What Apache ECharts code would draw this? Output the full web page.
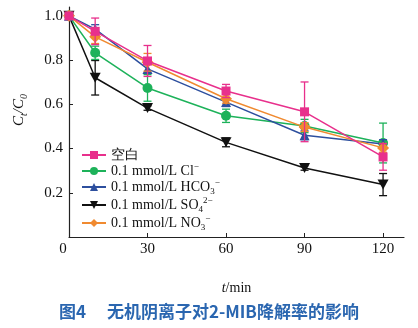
<!DOCTYPE html>
<html><head><meta charset="utf-8">
<script src="https://cdn.jsdelivr.net/npm/echarts@6/dist/echarts.min.js"></script>
<style>html,body{margin:0;padding:0;background:#fff}#c{width:418px;height:328px}</style>
</head><body><div id="c"></div>
<script>
const times = [0, 10, 30, 60, 90, 120];
const blank = [1.0, 0.93, 0.796, 0.66, 0.566, 0.362];
const blankErr = [0, 0.06, 0.07, 0.03, 0.135, 0.06];
const cl = [1.0, 0.833, 0.674, 0.548, 0.502, 0.425];
const clErr = [0, 0.03, 0.06, 0.03, 0.03, 0.09];
const hco3 = [1.0, 0.94, 0.76, 0.61, 0.46, 0.42];
const hco3Err = [0, 0.02, 0.02, 0.02, 0.02, 0.02];
const so4 = [1.0, 0.72, 0.583, 0.428, 0.312, 0.237];
const so4Err = [0, 0.078, 0.01, 0.02, 0.01, 0.05];
const no3 = [1.0, 0.905, 0.79, 0.625, 0.497, 0.403];
const no3Err = [0, 0.03, 0.04, 0.02, 0.02, 0.02];
const yTicks = [0.2, 0.4, 0.6, 0.8, 1.0];
const xTicks = [0, 30, 60, 90, 120];

const names = ['空白', 'Cl', 'HCO3', 'SO4', 'NO3'];
const legendLabels = {
  '空白': '{n|空白}',
  'Cl': '{n|0.1 mmol/L Cl}{sup|−}',
  'HCO3': '{n|0.1 mmol/L HCO}{sub|3}{sup|−}',
  'SO4': '{n|0.1 mmol/L SO}{sub|4}{sup|2−}',
  'NO3': '{n|0.1 mmol/L NO}{sub|3}{sup|−}'
};
const cfg = [
  {name: '空白', data: blank, err: blankErr, color: '#e8308c', symbol: 'rect', size: 9, z: 6},
  {name: 'Cl', data: cl, err: clErr, color: '#1db25a', symbol: 'circle', size: 10, z: 3},
  {name: 'HCO3', data: hco3, err: hco3Err, color: '#2d4f9e', symbol: 'triangle', size: 10, z: 4},
  {name: 'SO4', data: so4, err: so4Err, color: '#111111', symbol: 'path://M0,0 L10,0 L5,9 Z', size: [11, 10], z: 2},
  {name: 'NO3', data: no3, err: no3Err, color: '#f08a30', symbol: 'diamond', size: 12, z: 5}
];

const series = [];
cfg.forEach(c => {
  series.push({
    type: 'custom', name: c.name + '_err', z: c.z, silent: true,
    data: times.map((t, i) => [t, c.data[i] - c.err[i], c.data[i] + c.err[i]]),
    renderItem: (params, api) => {
      const lo = api.coord([api.value(0), api.value(1)]);
      const hi = api.coord([api.value(0), api.value(2)]);
      const w = 4;
      const st = {stroke: c.color, lineWidth: 1.3};
      return {type: 'group', children: [
        {type: 'line', shape: {x1: lo[0], y1: lo[1], x2: hi[0], y2: hi[1]}, style: st},
        {type: 'line', shape: {x1: lo[0] - w, y1: lo[1], x2: lo[0] + w, y2: lo[1]}, style: st},
        {type: 'line', shape: {x1: hi[0] - w, y1: hi[1], x2: hi[0] + w, y2: hi[1]}, style: st}
      ]};
    }
  });
  series.push({
    type: 'line', name: c.name, z: c.z + 0.5,
    data: times.map((t, i) => [t, c.data[i]]),
    symbol: c.symbol, symbolSize: c.size, showSymbol: true,
    lineStyle: {color: c.color, width: 1.5},
    itemStyle: {color: c.color, borderWidth: 0},
    animation: false
  });
});

const serif = '"Liberation Serif", "DejaVu Serif", serif';
const chart = echarts.init(document.getElementById('c'), null, {renderer: 'canvas'});
chart.setOption({
  animation: false,
  grid: {left: 69, right: 14, top: 7, bottom: 91},
  legend: {
    data: names, orient: 'vertical', left: 76, top: 143,
    itemWidth: 24, itemHeight: 10, itemGap: 0,
    formatter: n => legendLabels[n],
    textStyle: {
      fontFamily: serif, fontSize: 14, color: '#111',
      rich: {
        n: {fontFamily: serif, fontSize: 14, color: '#111', lineHeight: 18, verticalAlign: 'middle'},
        sub: {fontFamily: serif, fontSize: 9, color: '#111', lineHeight: 18, verticalAlign: 'bottom'},
        sup: {fontFamily: serif, fontSize: 9, color: '#111', lineHeight: 18, verticalAlign: 'top'}
      }
    }
  },
  xAxis: {
    type: 'value', min: 0, max: 128, interval: 30,
    axisLine: {lineStyle: {color: '#222', width: 1.2}},
    axisTick: {inside: true, length: 4, lineStyle: {color: '#222'}},
    splitLine: {show: false},
    axisLabel: {
      fontFamily: serif, fontSize: 15, color: '#111', margin: 5, showMaxLabel: false,
      formatter: v => xTicks.indexOf(v) >= 0 ? (v === 0 ? '{z|0}' : String(v)) : '',
      rich: {z: {fontFamily: serif, fontSize: 15, color: '#111', padding: [0, 12, 0, 0]}}
    },
    name: '{i|t}{n|/min}', nameLocation: 'middle', nameGap: 44,
    nameTextStyle: {fontFamily: serif, fontSize: 14, color: '#111',
      rich: {
        i: {fontFamily: serif, fontStyle: 'italic', fontSize: 14, color: '#111'},
        n: {fontFamily: serif, fontSize: 14, color: '#111'}
      }}
  },
  yAxis: {
    type: 'value', min: 0, max: 1.04, interval: 0.2,
    axisLine: {show: true, lineStyle: {color: '#222', width: 1.2}},
    axisTick: {show: true, inside: true, length: 4, lineStyle: {color: '#222'}},
    splitLine: {show: false},
    axisLabel: {
      fontFamily: serif, fontSize: 15, color: '#111', margin: 6, showMaxLabel: false,
      formatter: v => {
        const m = yTicks.find(t => Math.abs(t - v) < 1e-6);
        return m === undefined ? '' : m.toFixed(1);
      }
    }
  },
  graphic: [
    {type: 'text', x: 19, y: 110, rotation: Math.PI / 2,
     style: {text: '{i|C}{s|t}{i|/C}{s|0}', textAlign: 'center', textVerticalAlign: 'middle',
       rich: {
         i: {fontFamily: serif, fontStyle: 'italic', fontSize: 15, fill: '#111', lineHeight: 20, verticalAlign: 'middle'},
         s: {fontFamily: serif, fontStyle: 'italic', fontSize: 10, fill: '#111', lineHeight: 20, verticalAlign: 'bottom'}
       }}},
    {type: 'text', left: 'center', top: 303,
     style: {text: '图4　 无机阴离子对2-MIB降解率的影响', font: 'bold 17px "Noto Sans CJK SC", sans-serif', fill: '#2a66b0'}}
  ],
  series: series
});
</script></body></html>
